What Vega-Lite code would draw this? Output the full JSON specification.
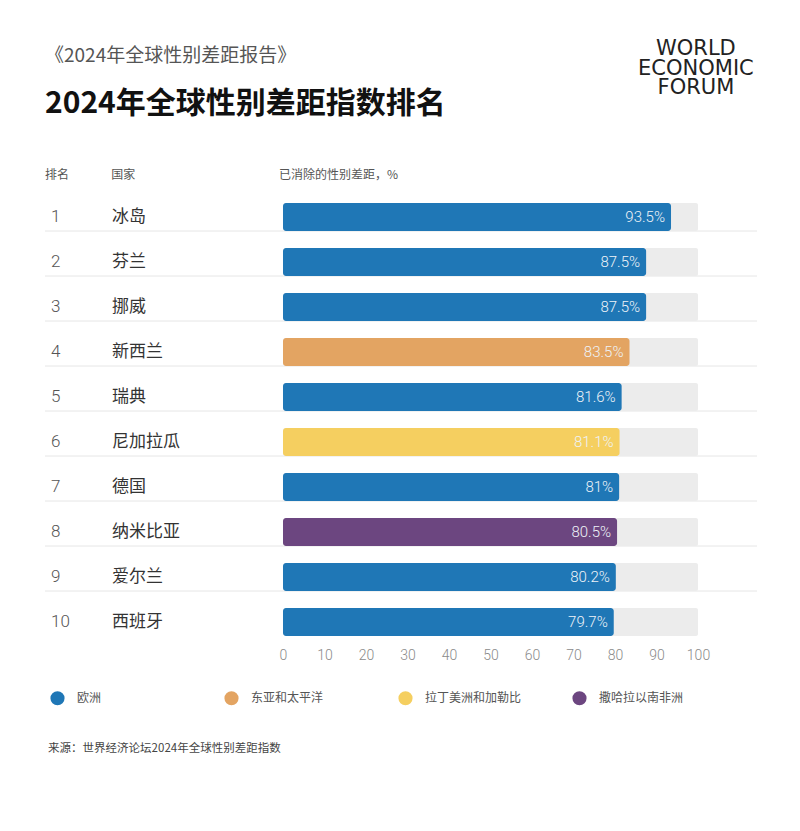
{
  "$schema": "https://vega.github.io/schema/vega-lite/v6.json",
  "width": 712,
  "height": 486,
  "autosize": {"type": "none"},
  "padding": {"left": 45, "top": 158.5, "right": 43, "bottom": 186.5},
  "background": "white",
  "config": {"view": {"stroke": null}, "font": "Noto Sans CJK SC"},
  "title": {
    "text": "《2024年全球性别差距报告》",
    "subtitle": "2024年全球性别差距指数排名",
    "anchor": "start",
    "frame": "group",
    "font": "Noto Sans CJK SC",
    "fontSize": 19,
    "fontWeight": "normal",
    "color": "#555555",
    "subtitleFont": "Noto Sans CJK SC",
    "subtitleFontSize": 30,
    "subtitleFontWeight": "bold",
    "subtitleColor": "#111111",
    "subtitlePadding": 23,
    "offset": -81
  },
  "data": {
    "values": [
      {"rank": 1, "country": "冰岛", "value": 93.5, "region": "欧洲"},
      {"rank": 2, "country": "芬兰", "value": 87.5, "region": "欧洲"},
      {"rank": 3, "country": "挪威", "value": 87.5, "region": "欧洲"},
      {"rank": 4, "country": "新西兰", "value": 83.5, "region": "东亚和太平洋"},
      {"rank": 5, "country": "瑞典", "value": 81.6, "region": "欧洲"},
      {"rank": 6, "country": "尼加拉瓜", "value": 81.1, "region": "拉丁美洲和加勒比"},
      {"rank": 7, "country": "德国", "value": 81, "region": "欧洲"},
      {"rank": 8, "country": "纳米比亚", "value": 80.5, "region": "撒哈拉以南非洲"},
      {"rank": 9, "country": "爱尔兰", "value": 80.2, "region": "欧洲"},
      {"rank": 10, "country": "西班牙", "value": 79.7, "region": "欧洲"}
    ]
  },
  "resolve": {"axis": {"x": "independent", "y": "independent"}},
  "layer": [
    {
      "transform": [{"filter": "datum.rank < 10"}],
      "mark": {"type": "rule", "color": "#e6e6e6", "strokeWidth": 1, "yOffset": 14},
      "encoding": {
        "x": {"datum": -57.35, "axis": null},
        "x2": {"datum": 114.22},
        "y": {"field": "rank", "type": "quantitative", "axis": null}
      }
    },
    {
      "mark": {"type": "bar", "orient": "horizontal", "size": 28, "color": "#ececec", "cornerRadius": 2},
      "encoding": {
        "x": {"datum": 0, "axis": null},
        "x2": {"datum": 100},
        "y": {"field": "rank", "type": "quantitative", "axis": null}
      }
    },
    {
      "mark": {"type": "bar", "orient": "horizontal", "size": 28, "cornerRadius": 3},
      "encoding": {
        "x": {
          "field": "value",
          "type": "quantitative",
          "title": null,
          "scale": {"domain": [-57.35, 114.22], "nice": false, "zero": false, "padding": 0},
          "axis": {
            "values": [0, 10, 20, 30, 40, 50, 60, 70, 80, 90, 100],
            "domain": false,
            "ticks": false,
            "grid": false,
            "title": null,
            "labelColor": "#8a8a8a",
            "labelFontSize": 14,
            "labelFont": "Roboto",
            "labelFontWeight": 300,
            "labelPadding": 4
          }
        },
        "x2": {"datum": 0},
        "y": {
          "field": "rank",
          "type": "quantitative",
          "scale": {"domain": [-0.3, 10.5], "reverse": true, "nice": false, "zero": false, "padding": 0},
          "axis": null
        },
        "color": {
          "field": "region",
          "type": "nominal",
          "scale": {
            "domain": ["欧洲", "东亚和太平洋", "拉丁美洲和加勒比", "撒哈拉以南非洲"],
            "range": ["#1f77b6", "#e3a462", "#f5cf60", "#6c4680"]
          },
          "legend": {
            "orient": "none",
            "legendX": 5,
            "legendY": 532,
            "direction": "horizontal",
            "columns": 4,
            "gridAlign": "all",
            "columnPadding": 50,
            "title": null,
            "symbolType": "circle",
            "symbolSize": 200,
            "symbolOpacity": 1,
            "symbolStrokeWidth": 0,
            "labelFont": "Noto Sans CJK SC",
            "labelFontSize": 12,
            "labelColor": "#555555",
            "labelOffset": 12
          }
        }
      }
    },
    {
      "mark": {"type": "text", "align": "right", "baseline": "middle", "dx": -6, "color": "#eef3f8", "fontSize": 15, "font": "Roboto", "fontWeight": 300, "text": {"expr": "datum.value + '%'"}},
      "encoding": {
        "x": {"field": "value", "type": "quantitative", "axis": null},
        "y": {"field": "rank", "type": "quantitative", "axis": null}
      }
    },
    {
      "mark": {"type": "text", "align": "left", "baseline": "middle", "color": "#555555", "fontSize": 17, "font": "Roboto", "fontWeight": 300},
      "encoding": {
        "x": {"datum": -55.9, "axis": null},
        "y": {"field": "rank", "type": "quantitative", "axis": null},
        "text": {"field": "rank", "type": "quantitative"}
      }
    },
    {
      "mark": {"type": "text", "align": "left", "baseline": "middle", "color": "#333333", "fontSize": 17, "font": "Noto Sans CJK SC"},
      "encoding": {
        "x": {"datum": -41.2, "axis": null},
        "y": {"field": "rank", "type": "quantitative", "axis": null},
        "text": {"field": "country", "type": "nominal"}
      }
    },
    {
      "data": {"values": [{}]},
      "mark": {"type": "text", "align": "left", "baseline": "middle", "color": "#555555", "fontSize": 12, "text": "排名"},
      "encoding": {"x": {"datum": -57.35, "axis": null}, "y": {"datum": 0.07, "axis": null}}
    },
    {
      "data": {"values": [{}]},
      "mark": {"type": "text", "align": "left", "baseline": "middle", "color": "#555555", "fontSize": 12, "text": "国家"},
      "encoding": {"x": {"datum": -41.4, "axis": null}, "y": {"datum": 0.07, "axis": null}}
    },
    {
      "data": {"values": [{}]},
      "mark": {"type": "text", "align": "left", "baseline": "middle", "color": "#555555", "fontSize": 12, "text": "已消除的性别差距，%"},
      "encoding": {"x": {"datum": -0.96, "axis": null}, "y": {"datum": 0.07, "axis": null}}
    },
    {
      "data": {"values": [{}]},
      "mark": {"type": "text", "align": "left", "baseline": "middle", "color": "#444444", "fontSize": 11.5, "text": "来源：世界经济论坛2024年全球性别差距指数"},
      "encoding": {"x": {"datum": -56.6, "axis": null}, "y": {"datum": 12.82, "axis": null}}
    },
    {
      "data": {"values": [{}]},
      "mark": {"type": "text", "align": "center", "baseline": "middle", "color": "#222222", "fontSize": 21, "font": "DejaVu Sans", "lineHeight": 19.5, "text": ["WORLD", "ECONOMIC", "FORUM"]},
      "encoding": {"x": {"datum": 99.5, "axis": null}, "y": {"datum": -2.733, "axis": null}}
    }
  ]
}
